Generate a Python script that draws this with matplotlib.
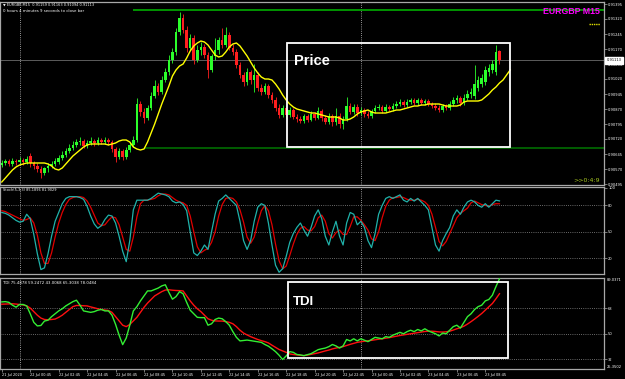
import matplotlib
matplotlib.use('Agg')
import matplotlib.pyplot as plt
from matplotlib.patches import Rectangle
from matplotlib.lines import Line2D
import numpy as np

# ---------------- data ----------------
opens = [0.90590, 0.90600, 0.90610, 0.90595, 0.90610, 0.90605, 0.90615, 0.90605, 0.90635, 0.90600,
         0.90585, 0.90570, 0.90550, 0.90575, 0.90585, 0.90595, 0.90605, 0.90625, 0.90640, 0.90660,
         0.90675, 0.90690, 0.90705, 0.90710, 0.90685, 0.90700, 0.90710, 0.90700, 0.90715, 0.90705,
         0.90715, 0.90705, 0.90670, 0.90630, 0.90660, 0.90630, 0.90665, 0.90690, 0.90715, 0.90895,
         0.90855, 0.90825, 0.90875, 0.90935, 0.90985, 0.90955, 0.91015, 0.91055, 0.91115, 0.91155,
         0.91255, 0.91325, 0.91265, 0.91175, 0.91225, 0.91115, 0.91165, 0.91180, 0.91140, 0.91065,
         0.91135, 0.91165, 0.91215, 0.91190, 0.91240, 0.91175, 0.91155, 0.91090, 0.91040, 0.91005,
         0.91055, 0.91015, 0.91040, 0.90975, 0.90955, 0.90985, 0.90940, 0.90915, 0.90875, 0.90840,
         0.90875, 0.90840, 0.90865, 0.90830, 0.90820, 0.90810, 0.90835, 0.90815, 0.90845, 0.90825,
         0.90860, 0.90825, 0.90805, 0.90835, 0.90805, 0.90835, 0.90795, 0.90820, 0.90885, 0.90855,
         0.90880, 0.90850, 0.90865, 0.90845, 0.90835, 0.90860, 0.90875, 0.90880, 0.90860, 0.90880,
         0.90870, 0.90885, 0.90895, 0.90905, 0.90890, 0.90905, 0.90915, 0.90900, 0.90915, 0.90900,
         0.90910, 0.90895, 0.90885, 0.90875, 0.90865, 0.90885, 0.90875, 0.90895, 0.90915, 0.90925,
         0.90900, 0.90925, 0.90945, 0.90935, 0.90975, 0.90995, 0.91005, 0.91055, 0.91065, 0.91055,
         0.91159]
highs = [0.90615, 0.90620, 0.90620, 0.90625, 0.90620, 0.90630, 0.90625, 0.90635, 0.90650, 0.90610,
         0.90600, 0.90585, 0.90580, 0.90600, 0.90610, 0.90625, 0.90640, 0.90660, 0.90675, 0.90695,
         0.90710, 0.90720, 0.90730, 0.90720, 0.90715, 0.90730, 0.90720, 0.90730, 0.90725, 0.90730,
         0.90725, 0.90715, 0.90680, 0.90675, 0.90670, 0.90680, 0.90705, 0.90735, 0.90925, 0.90910,
         0.90875, 0.90890, 0.90955, 0.91015, 0.91000, 0.91035, 0.91075, 0.91140, 0.91175, 0.91275,
         0.91355, 0.91345, 0.91285, 0.91245, 0.91240, 0.91190, 0.91205, 0.91195, 0.91155, 0.91145,
         0.91225, 0.91230, 0.91275, 0.91280, 0.91255, 0.91195, 0.91170, 0.91105, 0.91055, 0.91075,
         0.91065, 0.91095, 0.91055, 0.90995, 0.91000, 0.90995, 0.90955, 0.90930, 0.90895, 0.90890,
         0.90885, 0.90880, 0.90875, 0.90845, 0.90835, 0.90845, 0.90845, 0.90860, 0.90855, 0.90880,
         0.90870, 0.90840, 0.90850, 0.90845, 0.90875, 0.90850, 0.90835, 0.90930, 0.90900, 0.90895,
         0.90895, 0.90880, 0.90875, 0.90860, 0.90870, 0.90890, 0.90895, 0.90890, 0.90895, 0.90890,
         0.90900, 0.90910, 0.90920, 0.90915, 0.90920, 0.90925, 0.90925, 0.90925, 0.90925, 0.90920,
         0.90920, 0.90905, 0.90900, 0.90890, 0.90895, 0.90895, 0.90910, 0.90930, 0.90940, 0.90935,
         0.90945, 0.90965, 0.90975, 0.91090, 0.91035, 0.91045, 0.91085, 0.91095, 0.91115, 0.91190,
         0.91163]
lows = [0.90580, 0.90590, 0.90585, 0.90585, 0.90590, 0.90600, 0.90590, 0.90595, 0.90580, 0.90570,
        0.90555, 0.90525, 0.90540, 0.90555, 0.90575, 0.90585, 0.90595, 0.90615, 0.90630, 0.90650,
        0.90665, 0.90680, 0.90690, 0.90675, 0.90675, 0.90690, 0.90685, 0.90690, 0.90695, 0.90695,
        0.90690, 0.90655, 0.90605, 0.90620, 0.90615, 0.90620, 0.90655, 0.90680, 0.90705, 0.90835,
        0.90800, 0.90815, 0.90865, 0.90925, 0.90940, 0.90945, 0.91005, 0.91040, 0.91100, 0.91140,
        0.91240, 0.91250, 0.91155, 0.91165, 0.91095, 0.91105, 0.91140, 0.91125, 0.91025, 0.91055,
        0.91115, 0.91145, 0.91175, 0.91180, 0.91165, 0.91140, 0.91075, 0.91025, 0.90985, 0.90990,
        0.90995, 0.90955, 0.90960, 0.90940, 0.90945, 0.90925, 0.90900, 0.90860, 0.90825, 0.90830,
        0.90825, 0.90830, 0.90820, 0.90805, 0.90800, 0.90800, 0.90805, 0.90810, 0.90815, 0.90820,
        0.90810, 0.90795, 0.90795, 0.90785, 0.90790, 0.90775, 0.90770, 0.90810, 0.90845, 0.90845,
        0.90835, 0.90840, 0.90830, 0.90825, 0.90825, 0.90850, 0.90865, 0.90850, 0.90855, 0.90860,
        0.90860, 0.90875, 0.90885, 0.90880, 0.90880, 0.90895, 0.90890, 0.90890, 0.90890, 0.90890,
        0.90885, 0.90875, 0.90865, 0.90855, 0.90855, 0.90865, 0.90865, 0.90885, 0.90900, 0.90885,
        0.90890, 0.90915, 0.90925, 0.90920, 0.90960, 0.90980, 0.90990, 0.91035, 0.91050, 0.91040,
        0.91094]
closes = [0.90600, 0.90610, 0.90595, 0.90610, 0.90605, 0.90615, 0.90605, 0.90620, 0.90600, 0.90585,
          0.90570, 0.90550, 0.90575, 0.90585, 0.90595, 0.90610, 0.90625, 0.90640, 0.90660, 0.90675,
          0.90690, 0.90705, 0.90710, 0.90685, 0.90700, 0.90710, 0.90700, 0.90715, 0.90705, 0.90715,
          0.90705, 0.90670, 0.90630, 0.90660, 0.90630, 0.90665, 0.90690, 0.90715, 0.90895, 0.90855,
          0.90825, 0.90875, 0.90935, 0.90985, 0.90955, 0.91015, 0.91055, 0.91115, 0.91155, 0.91255,
          0.91325, 0.91265, 0.91175, 0.91225, 0.91115, 0.91165, 0.91180, 0.91140, 0.91065, 0.91135,
          0.91165, 0.91215, 0.91190, 0.91240, 0.91175, 0.91155, 0.91090, 0.91040, 0.91005, 0.91055,
          0.91015, 0.91040, 0.90975, 0.90955, 0.90985, 0.90940, 0.90915, 0.90875, 0.90840, 0.90875,
          0.90840, 0.90865, 0.90830, 0.90820, 0.90810, 0.90835, 0.90815, 0.90845, 0.90825, 0.90860,
          0.90825, 0.90805, 0.90835, 0.90805, 0.90835, 0.90795, 0.90820, 0.90885, 0.90855, 0.90880,
          0.90850, 0.90865, 0.90845, 0.90835, 0.90860, 0.90875, 0.90880, 0.90860, 0.90880, 0.90870,
          0.90885, 0.90895, 0.90905, 0.90890, 0.90905, 0.90915, 0.90900, 0.90915, 0.90900, 0.90910,
          0.90895, 0.90885, 0.90875, 0.90865, 0.90885, 0.90875, 0.90895, 0.90915, 0.90925, 0.90900,
          0.90925, 0.90945, 0.90955, 0.90995, 0.91015, 0.91025, 0.91065, 0.91075, 0.91095, 0.91155,
          0.91113]

# yellow moving average (drawn 3 bars further than the last candle)
ma = [0.90505, 0.90525, 0.90545, 0.90565, 0.90580, 0.90590, 0.90595, 0.90600, 0.90600, 0.90600,
      0.90600, 0.90600, 0.90600, 0.90595, 0.90585, 0.90570, 0.90565, 0.90575, 0.90595, 0.90615,
      0.90635, 0.90650, 0.90665, 0.90680, 0.90690, 0.90695, 0.90695, 0.90695, 0.90695, 0.90695,
      0.90690, 0.90695, 0.90700, 0.90710, 0.90715, 0.90715, 0.90705, 0.90680, 0.90670, 0.90665,
      0.90670, 0.90705, 0.90750, 0.90795, 0.90845, 0.90895, 0.90940, 0.90985, 0.91035, 0.91065,
      0.91085, 0.91095, 0.91125, 0.91160, 0.91185, 0.91200, 0.91210, 0.91205, 0.91190, 0.91165,
      0.91140, 0.91130, 0.91135, 0.91155, 0.91180, 0.91195, 0.91200, 0.91185, 0.91160, 0.91135,
      0.91105, 0.91075, 0.91050, 0.91030, 0.91020, 0.91020, 0.91015, 0.90995, 0.90970, 0.90940,
      0.90915, 0.90895, 0.90880, 0.90870, 0.90865, 0.90860, 0.90855, 0.90850, 0.90850, 0.90845,
      0.90840, 0.90835, 0.90830, 0.90830, 0.90830, 0.90825, 0.90815, 0.90815, 0.90820, 0.90830,
      0.90845, 0.90855, 0.90860, 0.90865, 0.90855, 0.90850, 0.90850, 0.90850, 0.90850, 0.90855,
      0.90860, 0.90865, 0.90865, 0.90870, 0.90875, 0.90880, 0.90885, 0.90885, 0.90890, 0.90890,
      0.90895, 0.90895, 0.90895, 0.90895, 0.90890, 0.90885, 0.90885, 0.90885, 0.90885, 0.90890,
      0.90905, 0.90910, 0.90910, 0.90910, 0.90910, 0.90915, 0.90930, 0.90945, 0.90965, 0.90980,
      0.91000, 0.91015, 0.91040, 0.91065]

stoch_main = [72, 71, 69, 66, 63, 61, 62, 70, 65, 47,
              25, 7, 9, 25, 45, 62, 72, 82, 88, 90,
              90, 90, 89, 87, 79, 68, 59, 54, 57, 64,
              69, 68, 60, 45, 28, 16, 40, 75, 86, 86,
              86, 86, 88, 91, 94, 93, 92, 90, 85, 83,
              84, 81, 74, 50, 26, 23, 28, 35, 30, 50,
              70, 85, 88, 92, 88, 84, 80, 62, 40, 30,
              40, 62, 78, 82, 80, 60, 35, 12, 4, 8,
              22, 38, 48, 55, 60, 52, 45, 55, 68, 75,
              65, 45, 35, 50, 62, 45, 35, 60, 72, 70,
              58, 62, 55, 40, 32, 48, 70, 80, 88, 90,
              88, 90, 92, 86, 84, 88, 85, 88, 84, 80,
              75, 55, 35, 28, 40, 48, 55, 68, 75, 70,
              78, 84, 86, 84, 80, 78, 82, 78, 82, 86,
              85.1896]
stoch_signal = [74, 73, 71, 69, 67, 65, 63, 64, 66, 60,
                46, 26, 14, 14, 26, 44, 60, 72, 81, 87,
                89, 90, 90, 89, 85, 78, 69, 60, 57, 58,
                63, 67, 66, 58, 44, 30, 28, 44, 67, 82,
                86, 86, 87, 88, 91, 93, 93, 92, 89, 86,
                84, 83, 80, 68, 50, 33, 26, 29, 31, 38,
                50, 68, 81, 88, 89, 88, 84, 75, 61, 44,
                37, 44, 60, 74, 80, 74, 58, 36, 17, 8,
                11, 23, 36, 47, 54, 56, 52, 51, 56, 66,
                69, 62, 48, 43, 49, 52, 47, 47, 56, 67,
                67, 63, 58, 52, 42, 40, 50, 66, 79, 86,
                89, 89, 90, 89, 87, 86, 86, 87, 86, 84,
                80, 70, 55, 39, 34, 39, 48, 57, 66, 71,
                74, 77, 83, 85, 83, 81, 80, 79, 81, 82,
                81.9029]

tdi_price = [72.3, 72.5, 72.0, 70.0, 68.6, 70.5, 70.5, 69.5, 64.0, 58.0,
             55.5, 55.8, 58.9, 59.5, 62.0, 64.0, 66.0, 67.5, 69.5, 71.0,
             72.5, 73.5, 70.0, 66.0, 65.5, 65.0, 65.5, 66.5, 67.0, 66.0,
             66.0, 63.0, 56.6, 49.0, 42.4, 47.0, 56.0, 66.0, 69.0, 73.0,
             76.5, 80.0, 80.0, 81.0, 82.0, 83.5, 84.3, 79.0, 74.2, 76.0,
             79.5, 78.0, 72.0, 66.5, 64.0, 61.5, 61.3, 61.3, 56.0, 57.0,
             60.0, 61.0, 60.5, 58.5, 56.0, 51.5, 47.5, 45.0, 45.3, 45.6,
             45.2, 44.8, 44.4, 44.0, 42.5, 41.3, 39.5, 37.5, 35.0, 32.0,
             34.5, 37.5, 37.0, 35.5, 35.2, 34.7, 35.4, 36.1, 37.5, 38.9,
             39.5, 40.0, 41.0, 42.5, 41.5, 40.0, 41.5, 46.0, 45.0, 46.5,
             45.0, 46.5, 45.5, 44.5, 46.0, 47.5, 47.0, 46.5, 48.0, 47.5,
             49.0, 50.0, 51.0, 50.0, 51.5, 52.5, 51.5, 53.0, 52.0, 53.5,
             52.0, 51.0, 50.0, 48.5, 50.5, 50.0, 52.5, 55.0, 56.0, 54.0,
             58.0, 62.0, 64.0, 67.0, 69.0, 70.0, 73.0, 74.0, 77.0, 83.0,
             88.5]
tdi_signal = [70.7, 70.8, 70.9, 71.0, 70.8, 70.5, 70.2, 69.5, 68.0, 65.5,
              63.0, 61.0, 60.0, 59.8, 60.0, 60.3, 61.5, 63.0, 65.0, 67.0,
              69.0, 69.8, 69.8, 69.6, 69.5, 68.8, 68.2, 67.5, 67.0, 66.6,
              66.3, 65.0, 62.0, 59.0, 56.0, 55.0, 56.5, 59.0, 61.5, 65.0,
              68.5, 71.5, 74.0, 76.5, 78.0, 79.5, 80.6, 80.8, 80.5, 80.3,
              80.2, 80.0, 76.5, 73.0, 70.0, 67.5, 65.5, 63.0, 60.5, 59.5,
              59.0, 58.9, 58.9, 58.5, 58.0, 57.0, 55.0, 52.5, 50.5, 49.2,
              48.0, 47.0, 46.0, 45.2, 44.5, 43.6, 42.0, 40.5, 39.0, 38.0,
              37.0, 35.9, 35.5, 35.2, 34.9, 34.7, 35.1, 35.6, 36.1, 36.6,
              37.3, 38.0, 38.6, 39.4, 40.0, 40.5, 41.0, 41.8, 42.6, 43.3,
              44.0, 44.4, 44.8, 45.1, 45.4, 45.8, 46.2, 46.5, 46.9, 47.3,
              47.8, 48.3, 48.8, 49.2, 49.6, 50.0, 50.4, 50.8, 51.2, 51.6,
              51.8, 51.8, 51.6, 51.3, 51.2, 51.4, 51.8, 52.6, 53.5, 54.3,
              55.3, 56.8, 58.5, 60.3, 62.2, 64.2, 66.5, 68.8, 71.2, 74.5,
              78.05]

time_tick_bars = [0, 8, 16, 24, 32, 40, 48, 56, 64, 72, 80, 88, 96, 104, 112, 120, 128, 136]
time_tick_labels = ['21 Jul 2020', '22 Jul 00:45', '22 Jul 02:45', '22 Jul 04:45', '22 Jul 06:45',
                    '22 Jul 08:45', '22 Jul 10:45', '22 Jul 12:45', '22 Jul 14:45', '22 Jul 16:45',
                    '22 Jul 18:45', '22 Jul 20:45', '22 Jul 22:45', '23 Jul 00:45', '23 Jul 02:45',
                    '23 Jul 04:45', '23 Jul 06:45', '23 Jul 08:45']
day_separator_bars = [5, 101]

price_ticks = [0.91395, 0.91320, 0.91245, 0.91170, 0.91095, 0.91020, 0.90945,
               0.90870, 0.90795, 0.90720, 0.90645, 0.90570, 0.90495]
stoch_levels = [80, 50, 20]
tdi_levels = [68, 50, 32]
tdi_min, tdi_max = 25.3502, 89.0371
level_prices = [0.91365, 0.90675]
level_start_bars = [37, 40]
level_colors = ['#00a000', '#006400']
current_price = 0.91113

# ---------------- figure ----------------
W, H = 625, 379
fig = plt.figure(figsize=(6.25, 3.79), dpi=100, facecolor='black')

def axes_px(top, bottom, left=0, right=604):
    return fig.add_axes([left / W, 1 - bottom / H, (right - left) / W, (bottom - top) / H])

ax1 = axes_px(2, 185)
ax2 = axes_px(187, 274)
ax3 = axes_px(278, 369)

XL = (-0.506, 169.4)
grid_ls = (0, (1, 1.6))
for ax in (ax1, ax2, ax3):
    ax.set_facecolor('black')
    ax.set_xlim(*XL)
    for s in ax.spines.values():
        s.set_color('#a8a8a8')
        s.set_linewidth(0.9)
    ax.yaxis.tick_right()
    ax.tick_params(axis='y', direction='out', length=2, width=0.5, color='#a8a8a8',
                   labelcolor='white', labelsize=2.6, pad=1)
    ax.tick_params(axis='x', bottom=False, labelbottom=False)
    for b in day_separator_bars:
        ax.axvline(b, color='#c8c8c8', lw=0.6, ls=grid_ls, zorder=1)

# ---- price panel ----
o = np.array(opens); c = np.array(closes); h = np.array(highs); l = np.array(lows)
idx = np.arange(len(c))
up = c >= o
cols = np.where(up, '#2bff2b', '#ff1f1f')
ax1.axhline(current_price, color='#5c5c5c', lw=0.7, zorder=1)
ax1.hlines(level_prices, level_start_bars, XL[1], colors=level_colors, lw=1.3, zorder=2)
ax1.vlines(idx, l, h, colors=cols, lw=0.6, zorder=3)
ax1.bar(idx, np.maximum(np.abs(c - o), 0.00001), bottom=np.minimum(o, c), width=0.72,
        color=cols, linewidth=0, zorder=4)
ax1.plot(np.arange(len(ma)), ma, color='#ffff00', lw=1.0, zorder=5)
ax1.set_ylim(0.90490, 0.91405)
ax1.set_yticks(price_ticks)
ax1.set_yticklabels([f'{p:.5f}' for p in price_ticks])
ax1.add_patch(Rectangle((80.2, 0.90680), 62.7, 0.00520, fill=False, ec='white', lw=1.3, zorder=6))
ax1.text(82.2, 0.91110, 'Price', color='white', fontsize=10.5, fontweight='bold',
         family='Liberation Sans', va='center', ha='left', zorder=7)
ax1.text(1.004, current_price, f'{current_price:.5f}', transform=ax1.get_yaxis_transform(),
         fontsize=2.6, color='black', va='center', ha='left', zorder=10, clip_on=False,
         bbox=dict(boxstyle='square,pad=0.35', fc='white', ec='white'))

# ---- stochastic panel ----
ax2.hlines(stoch_levels, XL[0], XL[1], colors='#8c8c8c', lw=0.6, linestyles=[grid_ls], zorder=1)
ax2.plot(np.arange(len(stoch_signal)), stoch_signal, color='#e00000', lw=0.9, zorder=3)
ax2.plot(np.arange(len(stoch_main)), stoch_main, color='#20b2aa', lw=0.9, zorder=4)
ax2.set_ylim(2, 101)
ax2.set_yticks([100] + stoch_levels)
ax2.set_yticklabels(['100'] + [str(v) for v in stoch_levels])

# ---- TDI panel ----
ax3.hlines(tdi_levels, XL[0], XL[1], colors='#8c8c8c', lw=0.6, linestyles=[grid_ls], zorder=1)
ax3.plot(np.arange(len(tdi_signal)), tdi_signal, color='#ff1010', lw=1.0, zorder=3)
ax3.plot(np.arange(len(tdi_price)), tdi_price, color='#33ee33', lw=1.0, zorder=4)
ax3.set_ylim(tdi_min, tdi_max)
ax3.set_yticks(tdi_levels)
ax3.set_yticklabels([str(v) for v in tdi_levels])
ax3.text(1.005, 1.0, f'{tdi_max:.4f}', transform=ax3.transAxes, fontsize=2.6, color='white',
         va='top', ha='left', clip_on=False)
ax3.text(1.005, 0.0, f'{tdi_min:.4f}', transform=ax3.transAxes, fontsize=2.6, color='white',
         va='bottom', ha='left', clip_on=False)
ax3.add_patch(Rectangle((80.5, 33.3), 61.9, 52.9, fill=False, ec='white', lw=1.3, zorder=6))
ax3.text(82.0, 72.5, 'TDI', color='white', fontsize=9.5, fontweight='bold',
         family='Liberation Sans', va='center', ha='left', zorder=7)
ax3.set_xticks(time_tick_bars)
ax3.set_xticklabels(time_tick_labels, ha='left')
ax3.tick_params(axis='x', bottom=True, labelbottom=True, direction='out', length=2, width=0.5,
                color='#a8a8a8', labelcolor='white', labelsize=2.5, pad=1)

# ---- texts ----
def ftext(x, y, s, **kw):
    fig.text(x / W, 1 - y / H, s, **kw)

ftext(3, 5, '\u25bc EURGBP,M15  0.91159 0.91163 0.91094 0.91113', fontsize=2.5, color='white', va='center')
ftext(3, 11, '0 hours 4 minutes 9 seconds to close bar', fontsize=2.8, color='white', va='center')
ftext(600, 11.5, 'EURGBP M15', fontsize=6.3, color='#ff00ff', fontweight='bold',
      family='Liberation Sans', ha='right', va='center')
fig.add_artist(Line2D([589 / W, 600 / W], [1 - 23.5 / H, 1 - 23.5 / H], color='#e0e000',
                      lw=1.0, dashes=(1.0, 0.6)))
ftext(600, 180, '>>0:4:9', fontsize=4.5, color='#a8c820', ha='right', va='center')
ftext(3, 190, 'Stoch(5,3,3) 85.1896 81.9029', fontsize=2.5, color='white', va='center')
ftext(3, 283, 'TDI 75.4878 59.2472 43.0068 65.3038 78.0484', fontsize=2.8, color='white', va='center')

fig.savefig('out.png', dpi=100, facecolor='black')
